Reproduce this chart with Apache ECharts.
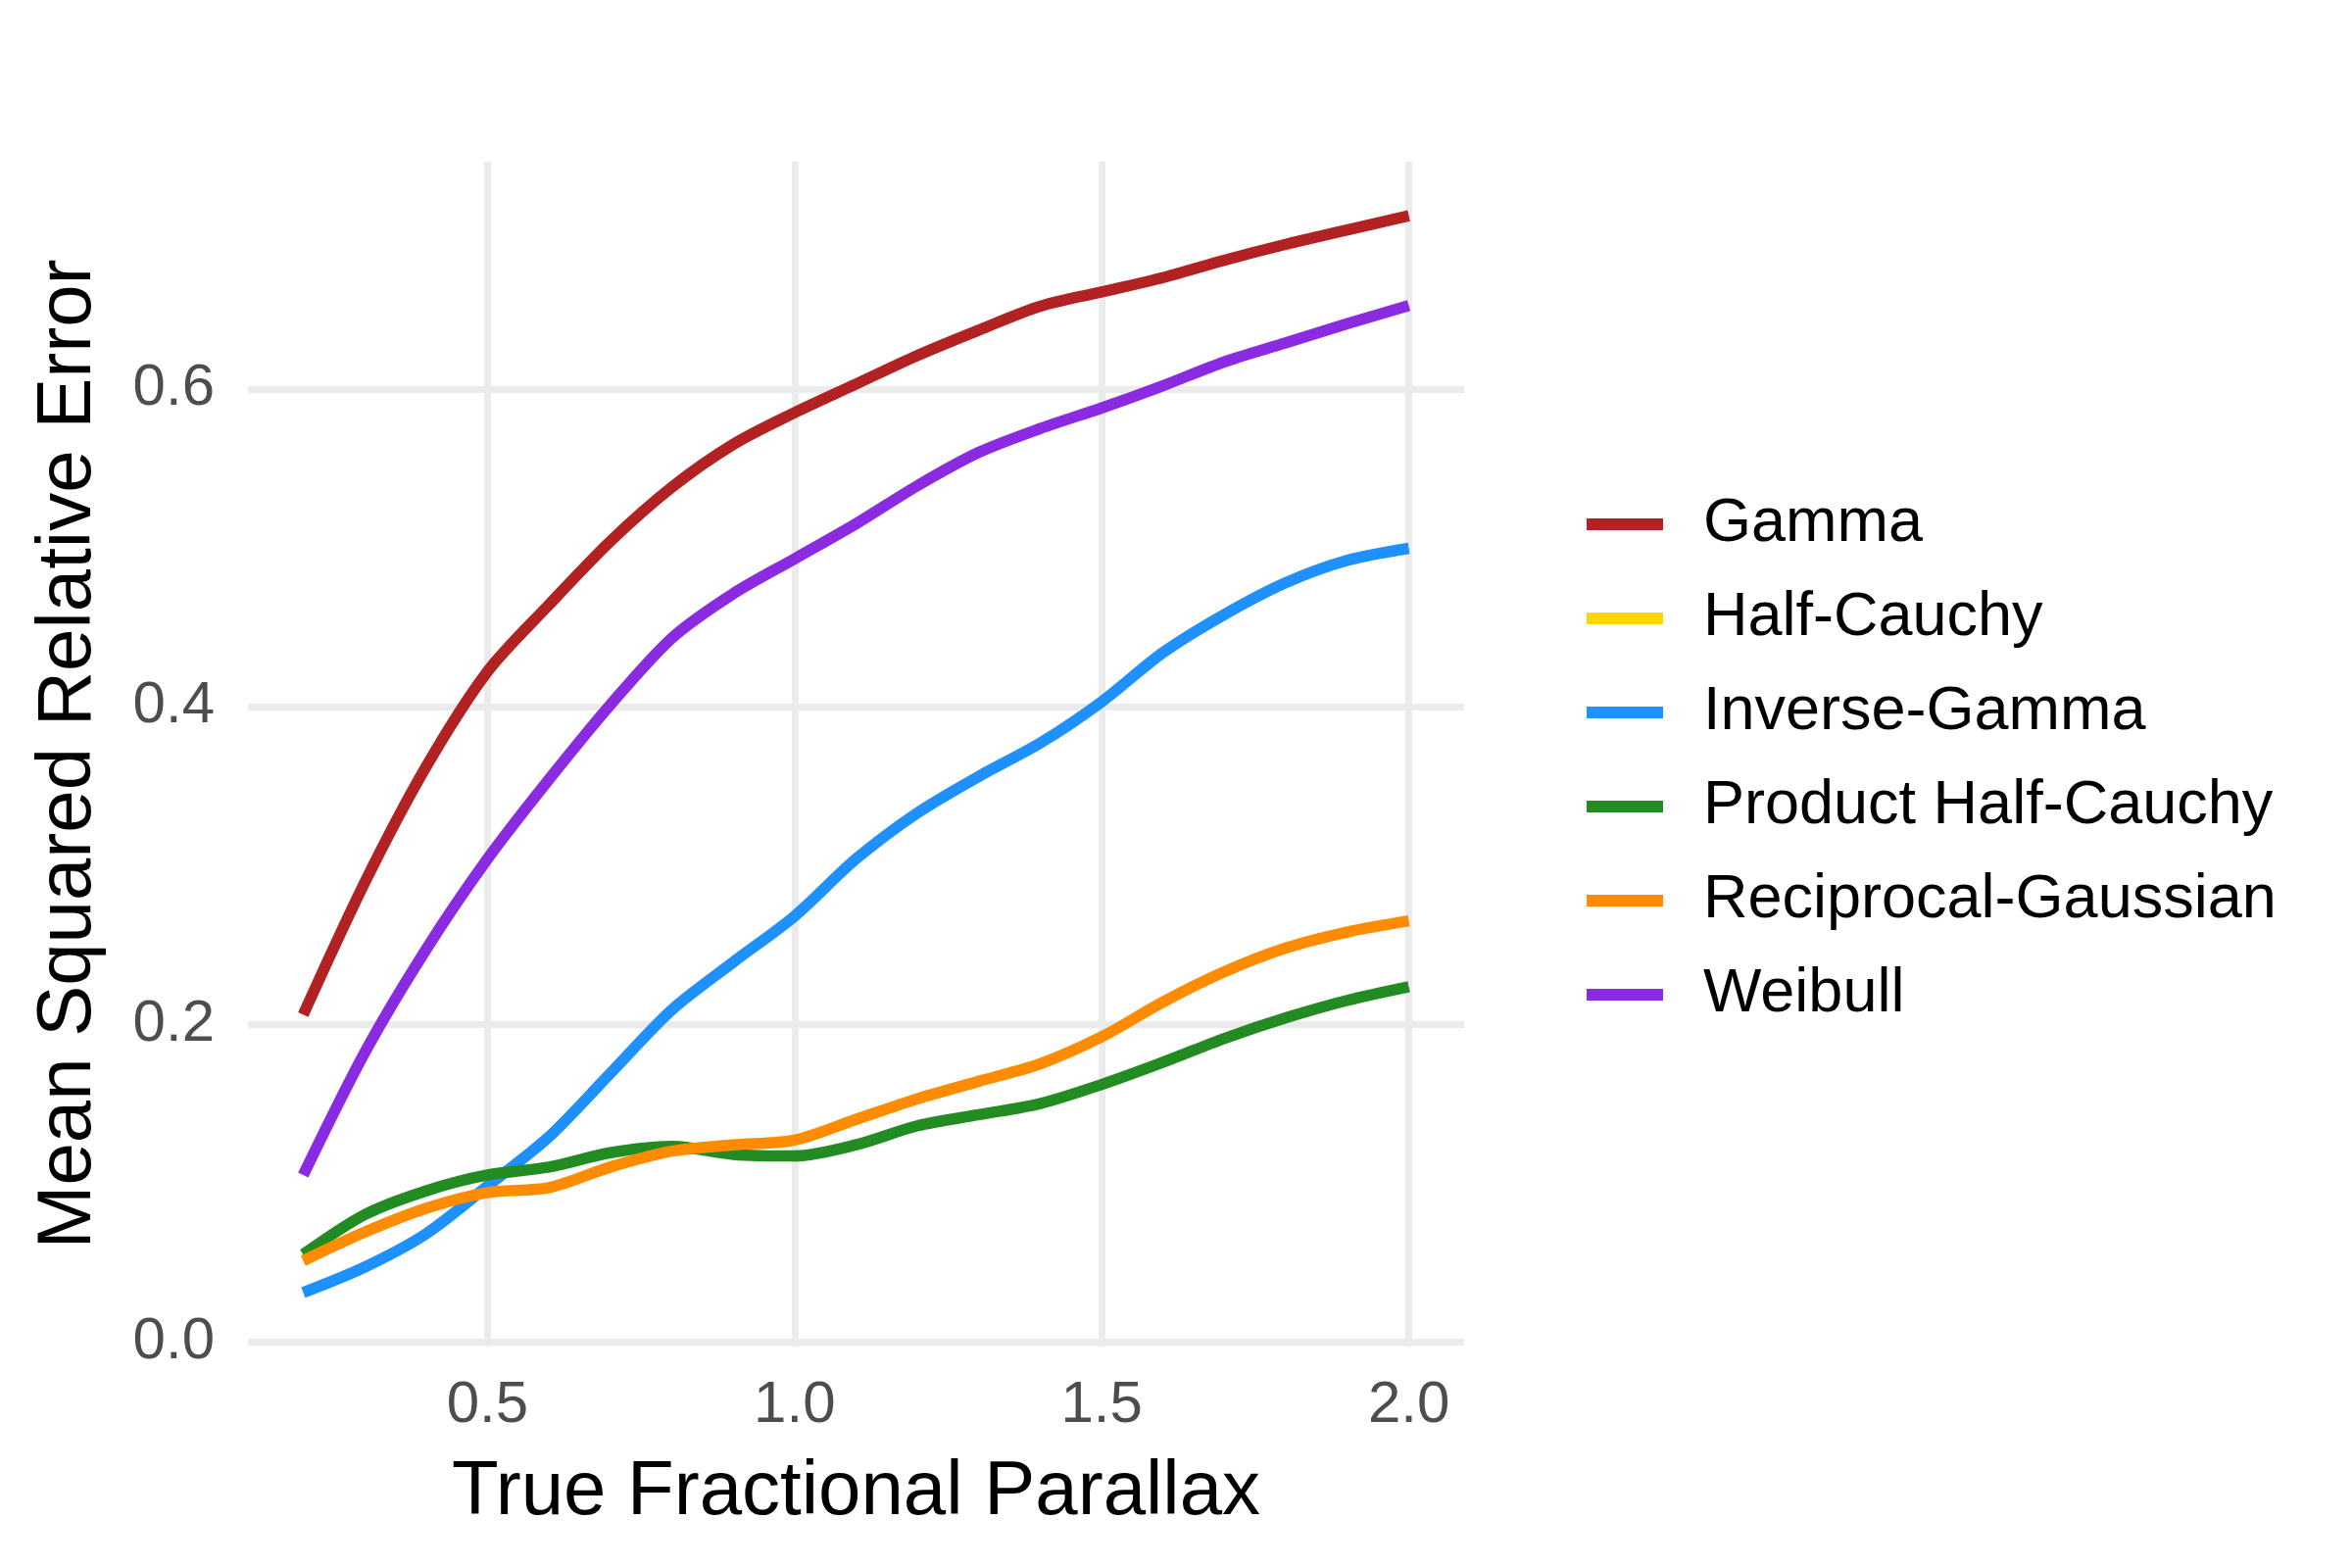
<!DOCTYPE html>
<html>
<head>
<meta charset="utf-8">
<script src="https://cdn.jsdelivr.net/npm/echarts@6/dist/echarts.min.js"></script>
<style>
  html, body { margin: 0; padding: 0; background: #fff; }
  #chart { width: 2400px; height: 1600px; }
</style>
</head>
<body>
<div id="chart"></div>
<script>
// true fractional parallax
var parallax = [0.2, 0.3, 0.4, 0.5, 0.6, 0.7, 0.8, 0.9, 1.0, 1.1, 1.2, 1.3, 1.4, 1.5, 1.6, 1.7, 1.8, 1.9, 2.0];

var gamma = [0.206, 0.289, 0.362, 0.422, 0.464, 0.504, 0.538, 0.565, 0.585, 0.603, 0.621, 0.637, 0.652, 0.661, 0.670, 0.681, 0.691, 0.700, 0.709];
var halfCauchy = []; // not visible in the figure
var inverseGamma = [0.031, 0.047, 0.068, 0.098, 0.129, 0.169, 0.209, 0.239, 0.268, 0.304, 0.333, 0.356, 0.377, 0.403, 0.434, 0.458, 0.478, 0.492, 0.4996];
var productHalfCauchy = [0.055, 0.080, 0.095, 0.105, 0.110, 0.119, 0.123, 0.118, 0.117, 0.124, 0.136, 0.143, 0.150, 0.162, 0.176, 0.191, 0.204, 0.215, 0.2236];
var reciprocalGaussian = [0.051, 0.069, 0.084, 0.094, 0.097, 0.110, 0.120, 0.124, 0.127, 0.140, 0.153, 0.164, 0.175, 0.192, 0.214, 0.233, 0.248, 0.258, 0.265];
var weibull = [0.105, 0.182, 0.247, 0.304, 0.354, 0.401, 0.443, 0.471, 0.493, 0.515, 0.539, 0.560, 0.575, 0.588, 0.602, 0.617, 0.629, 0.641, 0.6525];

var names = ['Gamma', 'Half-Cauchy', 'Inverse-Gamma', 'Product Half-Cauchy', 'Reciprocal-Gaussian', 'Weibull'];
var colors = ['#B22222', '#FFD700', '#1E90FF', '#228B22', '#FF8C00', '#8A2BE2'];
var values = [gamma, halfCauchy, inverseGamma, productHalfCauchy, reciprocalGaussian, weibull];

var xTicks = [0.5, 1.0, 1.5, 2.0];
var yTicks = [0.0, 0.2, 0.4, 0.6];

var font = '"Liberation Sans", Arial, Helvetica, sans-serif';

function pairs(ys) {
    return ys.map(function (y, i) { return [parallax[i], y]; });
}

var chart = echarts.init(document.getElementById('chart'));

var option = {
    backgroundColor: '#ffffff',
    animation: false,
    color: colors,
    grid: {
        left: 253,
        top: 165,
        width: 1241,
        height: 1209,
        containLabel: false
    },
    legend: {
        orient: 'vertical',
        left: 1614,
        top: 495,
        icon: 'rect',
        itemWidth: 78,
        itemHeight: 12,
        itemGap: 26,
        data: names,
        textStyle: {
            fontFamily: font,
            fontSize: 63,
            color: '#000',
            lineHeight: 70,
            padding: [0, 0, 0, 36]
        }
    },
    xAxis: {
        type: 'value',
        min: 0.11,
        max: 2.09,
        name: 'True Fractional Parallax',
        nameLocation: 'middle',
        nameGap: 110,
        nameTextStyle: { fontFamily: font, fontSize: 78, color: '#000' },
        axisLine: { show: false },
        axisTick: { show: false, customValues: xTicks },
        axisLabel: {
            customValues: xTicks,
            formatter: function (v) { return v.toFixed(1); },
            fontFamily: font,
            fontSize: 60,
            color: '#4D4D4D',
            margin: 30
        },
        splitLine: { show: true, lineStyle: { color: '#EBEBEB', width: 7 } }
    },
    yAxis: {
        type: 'value',
        min: -0.003,
        max: 0.743,
        name: 'Mean Squared Relative Error',
        nameLocation: 'middle',
        nameGap: 144,
        nameTextStyle: { fontFamily: font, fontSize: 78, color: '#000' },
        axisLine: { show: false },
        axisTick: { show: false, customValues: yTicks },
        axisLabel: {
            customValues: yTicks,
            formatter: function (v) { return v.toFixed(1); },
            fontFamily: font,
            fontSize: 60,
            color: '#4D4D4D',
            margin: 34
        },
        splitLine: { show: true, lineStyle: { color: '#EBEBEB', width: 7 } }
    },
    series: names.map(function (n, i) {
        return {
            name: n,
            type: 'line',
            data: pairs(values[i]),
            smooth: 0.3,
            showSymbol: false,
            symbol: 'none',
            lineStyle: { color: colors[i], width: 11.5, cap: 'butt' },
            itemStyle: { color: colors[i] }
        };
    })
};

chart.setOption(option);
</script>
</body>
</html>
